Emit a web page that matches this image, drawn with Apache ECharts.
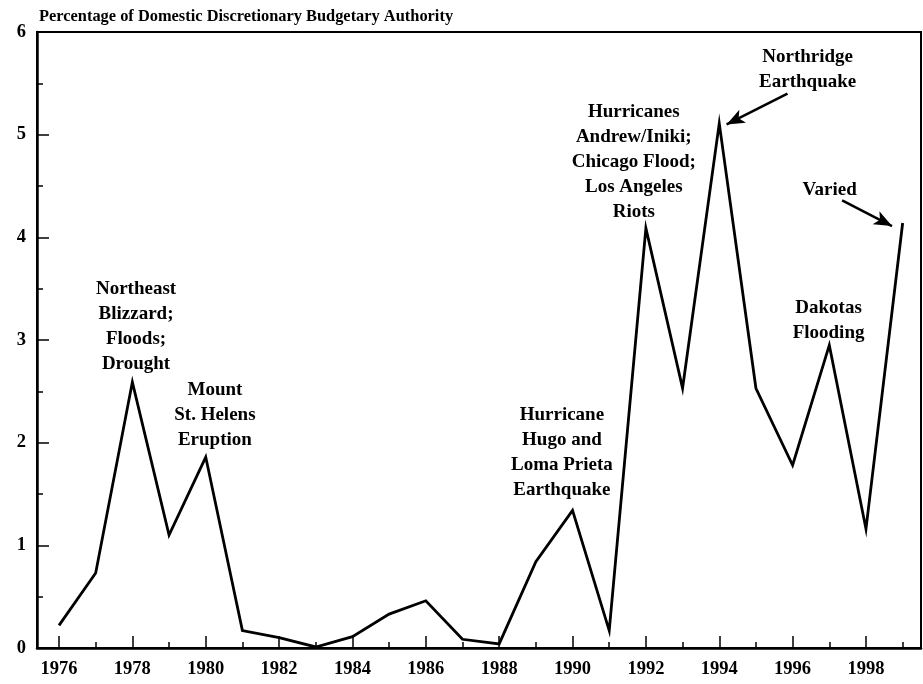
<!DOCTYPE html>
<html>
<head>
<meta charset="utf-8">
<script src="https://cdn.jsdelivr.net/npm/echarts@6/dist/echarts.min.js"></script>
<style>html,body{margin:0;padding:0;background:#fff;}#c{width:923px;height:684px;}</style>
</head>
<body>
<div id="c"></div>
<script>
const years = [1976,1977,1978,1979,1980,1981,1982,1983,1984,1985,1986,1987,1988,1989,1990,1991,1992,1993,1994,1995,1996,1997,1998,1999];
const values = [0.22,0.73,2.59,1.10,1.86,0.17,0.10,0.01,0.11,0.33,0.46,0.085,0.04,0.84,1.34,0.17,4.09,2.53,5.11,2.53,1.78,2.95,1.16,4.14];
const evenYearTicks = [1976,1978,1980,1982,1984,1986,1988,1990,1992,1994,1996,1998];
const oddYearTicks = [1977,1979,1981,1983,1985,1987,1989,1991,1993,1995,1997,1999];
const yTicks = [0,1,2,3,4,5,6];
const titleText = 'Percentage of Domestic Discretionary Budgetary Authority';
const annotations = [
  {text: 'Northeast\nBlizzard;\nFloods;\nDrought', x: 1978.10, y: 3.13},
  {text: 'Mount\nSt. Helens\nEruption', x: 1980.25, y: 2.27},
  {text: 'Hurricane\nHugo and\nLoma Prieta\nEarthquake', x: 1989.71, y: 1.90},
  {text: 'Hurricanes\nAndrew/Iniki;\nChicago Flood;\nLos Angeles\nRiots', x: 1991.67, y: 4.73},
  {text: 'Northridge\nEarthquake', x: 1996.41, y: 5.63},
  {text: 'Varied', x: 1997.01, y: 4.46},
  {text: 'Dakotas\nFlooding', x: 1996.98, y: 3.19}
];
const arrows = [
  {from: [1995.86, 5.40], to: [1994.20, 5.10]},
  {from: [1997.35, 4.36], to: [1998.71, 4.11]}
];

const FONT = "'Liberation Serif', 'Times New Roman', serif";
const chart = echarts.init(document.getElementById('c'), null, {renderer: 'canvas'});
chart.setOption({
  animation: false,
  backgroundColor: '#fff',
  title: {
    text: titleText, left: 34, top: 4,
    textStyle: {fontFamily: FONT, fontWeight: 'bold', fontSize: 16.4, color: '#000'}
  },
  grid: {left: 37, right: 2, top: 32, bottom: 36, show: true, borderColor: '#000', borderWidth: 2, backgroundColor: 'transparent'},
  xAxis: [{
    type: 'value', min: 1975.4, max: 1999.5,
    axisLine: {show: true, lineStyle: {color: '#000', width: 2.5}},
    axisTick: {show: true, inside: true, length: 12, lineStyle: {color: '#000', width: 1.5}, customValues: evenYearTicks},
    axisLabel: {show: true, customValues: evenYearTicks, margin: 12, fontFamily: FONT, fontWeight: 'bold', fontSize: 18.5, color: '#000', formatter: v => String(v)},
    splitLine: {show: false}
  }, {
    type: 'value', min: 1975.4, max: 1999.5, position: 'bottom',
    axisLine: {show: false},
    axisTick: {show: true, inside: true, length: 6, lineStyle: {color: '#000', width: 1.5}, customValues: oddYearTicks},
    axisLabel: {show: false},
    splitLine: {show: false}
  }],
  yAxis: {
    type: 'value', min: 0, max: 6, interval: 1,
    axisLine: {show: true, lineStyle: {color: '#000', width: 2.5}},
    axisTick: {show: true, inside: true, length: 12, lineStyle: {color: '#000', width: 1.5}},
    minorTick: {show: true, splitNumber: 2, length: 6, lineStyle: {color: '#000', width: 1.5}},
    axisLabel: {margin: 11, fontFamily: FONT, fontWeight: 'bold', fontSize: 18.5, color: '#000'},
    splitLine: {show: false}
  },
  series: [{
    type: 'line',
    data: years.map((y, i) => [y, values[i]]),
    showSymbol: false, symbol: 'none',
    lineStyle: {color: '#000', width: 2.8, join: 'miter'},
    markPoint: {
      symbol: 'circle', symbolSize: 0,
      label: {show: true, position: 'inside', fontFamily: FONT, fontWeight: 'bold', fontSize: 19, lineHeight: 25, color: '#000', align: 'center', verticalAlign: 'middle', formatter: p => p.data.name},
      data: annotations.map(a => ({name: a.text, coord: [a.x, a.y]}))
    },
    markLine: {
      silent: true,
      symbol: ['none', 'arrow'], symbolSize: [11, 18],
      label: {show: false},
      lineStyle: {color: '#000', width: 2.5, type: 'solid'},
      data: arrows.map(a => [{coord: a.from}, {coord: a.to}])
    }
  }]
});
</script>
</body>
</html>
